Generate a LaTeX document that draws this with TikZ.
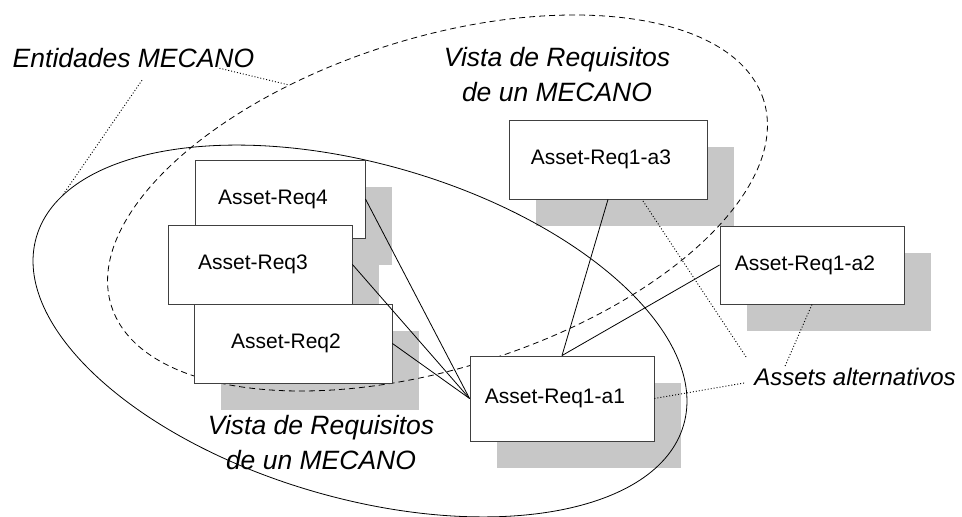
\documentclass[tikz,border=0pt]{standalone}
\usepackage{fontspec}
\setmainfont{Liberation Sans}
\usetikzlibrary{calc}

\pgfdeclarelayer{shadow}
\pgfdeclarelayer{back}
\pgfsetlayers{shadow,back,main}

\begin{document}
\begin{tikzpicture}
	[x=1pt,y=1pt,every node/.style={inner sep=2pt}]
	\tikzstyle{asset} = [draw=black!75, fill=white, line width=0.9pt, inner sep=0pt, font=\fontsize{21}{25}\selectfont];
	\tikzstyle{shade} = [fill=black!22];
	\tikzstyle{edges} = [line width=0.8pt];
	\tikzstyle{pointer} = [line width=0.9pt, dash pattern=on 1pt off 2pt];
	\tikzstyle{caption} = [font=\fontsize{26.5}{35}\selectfont\itshape, align=center];
	\useasboundingbox (0,0) rectangle (962,517);
	
	% assets
	\node[asset, minimum width=170, minimum height=78] (r4) at (280,318) {Asset-Req4\kern14pt};
	\node[asset, minimum width=184, minimum height=79] (r3) at (260,252.5) {Asset-Req3\kern14pt};
	\node[asset, minimum width=198, minimum height=79] (r2) at (293,173.5) {Asset-Req2\kern14pt};
	\node[asset, minimum width=184, minimum height=85] (a1) at (562,118.5) {Asset-Req1-a1\kern14pt};
	\node[asset, minimum width=198, minimum height=79] (a3) at (608,357.5) {Asset-Req1-a3\kern14pt};
	\node[asset, minimum width=184, minimum height=78] (a2) at (812,252) {Asset-Req1-a2\kern14pt};
	
	\begin{pgfonlayer}{shadow}
	\foreach \n in {r4,r3,r2,a1,a2,a3}
		\fill[shade] ($(\n.south west)+(27,-27)$) rectangle ($(\n.north east)+(27,-27)$);
	\end{pgfonlayer}
	
	% views
	\begin{pgfonlayer}{back}
	\begin{scope}[shift={(360,186)},rotate=-16.2]
		\draw[line width=0.8pt] (0,0) ellipse (337 and 167);
		\coordinate (e1) at (164:337 and 167);
	\end{scope}
	\begin{scope}[shift={(437.5,314)},rotate=17.5]
		\draw[line width=0.8pt, dash pattern=on 6pt off 4pt] (0,0) ellipse (342 and 165);
		\coordinate (e2) at (108:342 and 165);
	\end{scope}
	\end{pgfonlayer}
	
	\draw[edges] (r4.east) -- (a1.west);
	\draw[edges] (r3.east) -- (a1.west);
	\draw[edges] (r2.east) -- (a1.west);
	\draw[edges] (a1.north) -- (a3.south);
	\draw[edges] (a1.north) -- (a2.west);
	
	% captions
	\node[caption] (ent) at (133.5,458.7) {Entidades MECANO};
	\node[caption] (vtop) at (557,442) {Vista de Requisitos\\de un MECANO};
	\node[caption] (vbot) at (321,74.5) {Vista de Requisitos\\de un MECANO};
	\node[caption, font=\fontsize{24}{29}\selectfont\itshape] (alt) at (855,140) {Assets alternativos};
	
	\draw[pointer] ([xshift=8.5pt,yshift=-10pt]ent.south) -- (e1);
	\draw[pointer] ([xshift=-37pt,yshift=2pt]ent.south east) -- (e2);
	\draw[pointer] ([xshift=-6pt,yshift=9pt]alt.north west) -- ([xshift=34pt]a3.south);
	\draw[pointer] ([xshift=33pt]alt.north west) -- (a2.south);
	\draw[pointer] ([xshift=-8pt,yshift=-6pt]alt.west) -- (a1.east);
\end{tikzpicture}
\end{document}
